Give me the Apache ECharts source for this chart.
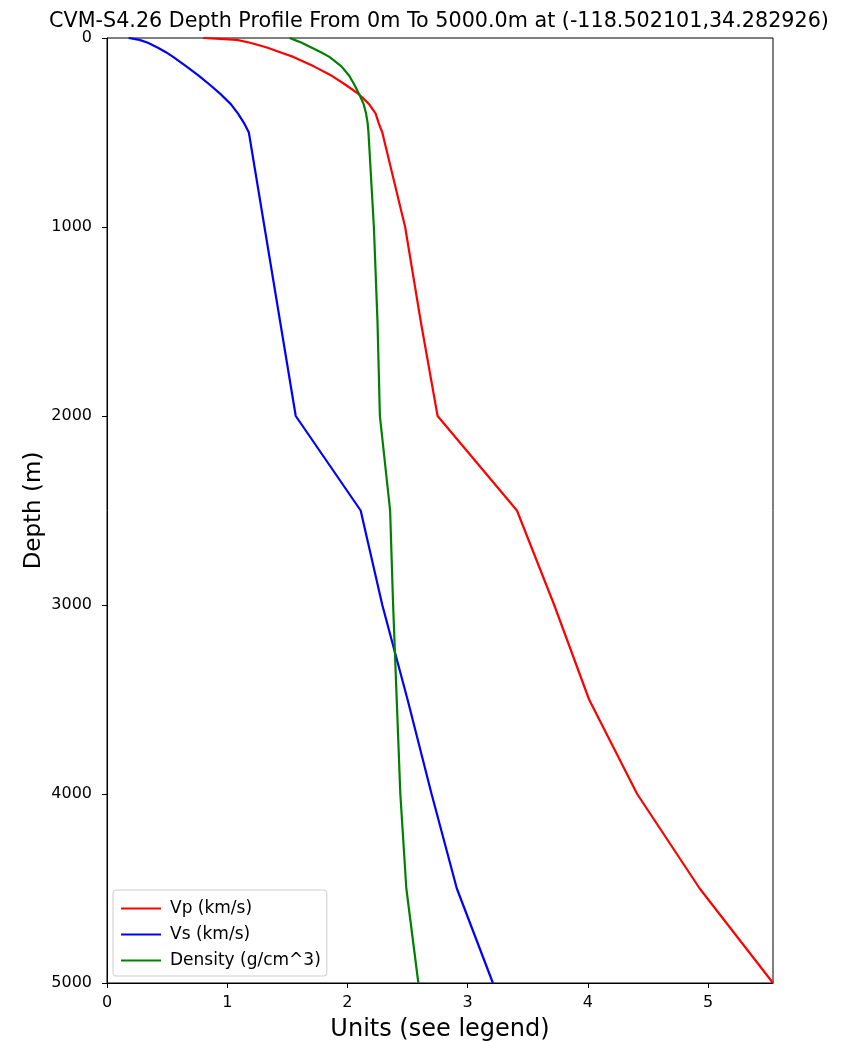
<!DOCTYPE html>
<html>
<head>
<meta charset="utf-8">
<script src="https://cdn.jsdelivr.net/npm/echarts@6/dist/echarts.min.js"></script>
<style>
  html, body { margin: 0; padding: 0; background: #ffffff; }
  #chart { width: 852px; height: 1041px; }
</style>
</head>
<body>
<div id="chart"></div>
<script>
// Sample depths (m) shared by all three profiles
const depths = [0, 10, 25, 50, 75, 100, 150, 200, 250, 300, 350, 400, 450, 500,
                1000, 1500, 2000, 2500, 3000, 3500, 4000, 4500, 5000];

// P-wave velocity (km/s)
const vp = [0.80, 1.08, 1.19, 1.33, 1.44, 1.55, 1.72, 1.87, 1.99, 2.10, 2.18, 2.235, 2.26, 2.29,
            2.48, 2.61, 2.75, 3.41, 3.72, 4.01, 4.41, 4.93, 5.54];

// S-wave velocity (km/s)
const vs = [0.18, 0.27, 0.34, 0.42, 0.49, 0.55, 0.66, 0.765, 0.86, 0.95, 1.03, 1.09, 1.14, 1.18,
            1.31, 1.44, 1.57, 2.11, 2.29, 2.50, 2.70, 2.91, 3.21];

// Density (g/cm^3)
const density = [1.52, 1.56, 1.62, 1.70, 1.78, 1.85, 1.95, 2.015, 2.06, 2.10, 2.135, 2.155, 2.168, 2.175,
                 2.22, 2.25, 2.27, 2.355, 2.38, 2.41, 2.44, 2.49, 2.59];

const xTicks = [0, 1, 2, 3, 4, 5];
const yTicks = [0, 1000, 2000, 3000, 4000, 5000];

const titleText = 'CVM-S4.26 Depth Profile From 0m To 5000.0m at (-118.502101,34.282926)';
const seriesNames = ['Vp (km/s)', 'Vs (km/s)', 'Density (g/cm^3)'];
const seriesColors = ['#ff0000', '#0000ff', '#008000'];

const FONT = 'DejaVu Sans';

function pairs(values) {
  return values.map((v, i) => [v, depths[i]]);
}

const chart = echarts.init(document.getElementById('chart'), null, { renderer: 'canvas' });

chart.setOption({
  backgroundColor: '#ffffff',
  animation: false,
  title: {
    text: titleText,
    left: 434,
    top: 6,
    textAlign: 'center',
    textStyle: { fontFamily: FONT, fontSize: 20.7, fontWeight: 'normal', color: '#000' }
  },
  grid: {
    left: 107, right: 79, top: 38, bottom: 58,
    outerBoundsMode: 'none',
    containLabel: false,
    show: true, borderColor: '#000', borderWidth: 1, backgroundColor: 'transparent'
  },
  legend: {
    orient: 'vertical',
    left: 113,
    top: 890,
    padding: [10, 6, 7, 8],
    icon: 'rect',
    itemWidth: 40,
    itemHeight: 2,
    itemGap: 9,
    backgroundColor: 'rgba(255,255,255,0.8)',
    borderColor: '#cccccc',
    borderWidth: 1,
    borderRadius: 3,
    data: seriesNames,
    textStyle: { fontFamily: FONT, fontSize: 17, lineHeight: 17, color: '#000', padding: [0, 0, 0, 4] }
  },
  xAxis: {
    type: 'value',
    min: 0,
    max: 5.54,
    interval: 1,
    name: 'Units (see legend)',
    nameLocation: 'middle',
    nameGap: 35,
    nameMoveOverlap: false,
    nameTextStyle: { fontFamily: FONT, fontSize: 24, color: '#000' },
    splitLine: { show: false },
    axisLine: { onZero: false, lineStyle: { color: '#000', width: 1 } },
    axisTick: { show: true, length: 5, inside: false, customValues: xTicks, lineStyle: { color: '#000' } },
    axisLabel: {
      margin: 12,
      customValues: xTicks,
      fontFamily: FONT, fontSize: 16, color: '#000',
      formatter: v => String(v)
    }
  },
  yAxis: {
    type: 'value',
    inverse: true,
    min: 0,
    max: 5000,
    interval: 1000,
    name: 'Depth (m)',
    nameLocation: 'middle',
    nameGap: 61,
    nameMoveOverlap: false,
    nameTextStyle: { fontFamily: FONT, fontSize: 23, color: '#000' },
    splitLine: { show: false },
    axisLine: { onZero: false, lineStyle: { color: '#000', width: 1 } },
    axisTick: { show: true, length: 5, inside: false, customValues: yTicks, lineStyle: { color: '#000' } },
    axisLabel: {
      margin: 15,
      customValues: yTicks,
      fontFamily: FONT, fontSize: 16, color: '#000',
      formatter: v => String(v)
    }
  },
  series: [vp, vs, density].map((vals, i) => ({
    name: seriesNames[i],
    type: 'line',
    data: pairs(vals),
    symbol: 'none',
    smooth: false,
    clip: true,
    color: seriesColors[i],
    lineStyle: { color: seriesColors[i], width: 2.2 }
  }))
});
</script>
</body>
</html>
